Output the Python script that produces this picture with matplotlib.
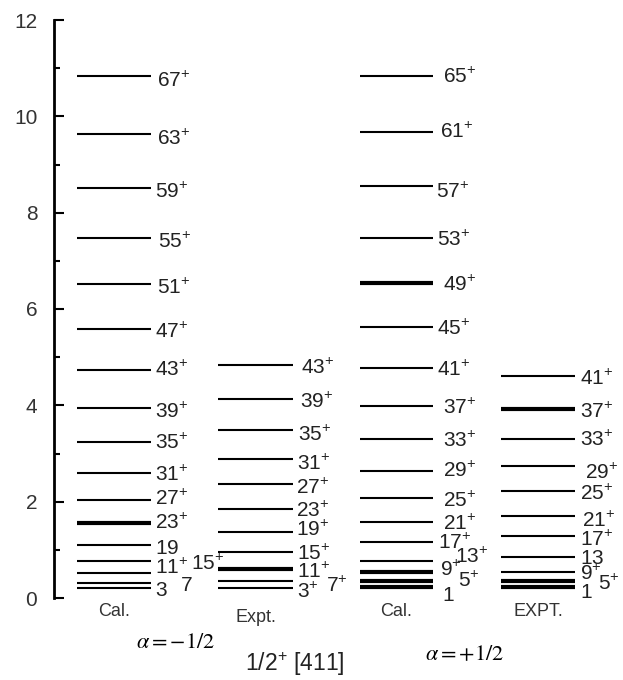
import matplotlib.pyplot as plt

plt.rcParams['font.family'] = ['Liberation Sans', 'DejaVu Sans']
plt.rcParams['mathtext.fontset'] = 'custom'
plt.rcParams['mathtext.rm'] = 'Liberation Sans'

# levels (2I) and energies (MeV)
spin_cal_neg = [67, 63, 59, 55, 51, 47, 43, 39, 35, 31, 27, 23, 19, 15, 11, 7, 3]
e_cal_neg = [10.84, 9.63, 8.51, 7.48, 6.51, 5.58, 4.73, 3.94, 3.24, 2.59, 2.03, 1.55, 1.11, 0.77, 0.51, 0.31, 0.21]

spin_exp_neg = [43, 39, 35, 31, 27, 23, 19, 15, 11, 7, 3]
e_exp_neg = [4.84, 4.13, 3.49, 2.88, 2.36, 1.84, 1.38, 0.96, 0.60, 0.36, 0.21]

spin_cal_pos = [65, 61, 57, 53, 49, 45, 41, 37, 33, 29, 25, 21, 17, 13, 9, 5, 1]
e_cal_pos = [10.84, 9.68, 8.56, 7.48, 6.54, 5.62, 4.78, 3.99, 3.30, 2.64, 2.08, 1.57, 1.16, 0.77, 0.55, 0.36, 0.22]

spin_exp_pos = [41, 37, 33, 29, 25, 21, 17, 13, 9, 5, 1]
e_exp_pos = [4.60, 3.92, 3.30, 2.74, 2.22, 1.70, 1.29, 0.86, 0.55, 0.36, 0.22]

# highlighted (thick) levels
thick_cal_neg = [23]
thick_exp_neg = [11]
thick_cal_pos = [49, 9, 5, 1]
thick_exp_pos = [37, 5, 1]

# labels printed without the parity sign
noplus_cal_neg = [19, 7, 3]
noplus_exp_neg = []
noplus_cal_pos = [1]
noplus_exp_pos = [13, 1]

column_names = ["Cal.", "Expt.", "Cal.", "EXPT."]

# ---- layout (pixel units, axes x == figure pixel x) ----
W, H = 623, 680
x_cols = [(77, 151), (218, 293), (360, 433), (501, 575)]
# label nudges in pixels (dx from line end, dy up)
off_cal_neg = {67: (6, -3), 63: (6, -3), 59: (4, -2), 55: (7, -2), 51: (6, -2), 47: (4, -1),
               43: (4, 2), 39: (4, -2), 35: (4, 1), 31: (4, 0), 27: (4, 3), 23: (4, 2),
               19: (4, -1), 15: (40, -1), 11: (4, 7), 7: (29, 0), 3: (4, 0)}
off_exp_neg = {43: (8, -1), 39: (7, -1), 35: (5, -3), 31: (4, -3), 27: (3, -2), 23: (3, 0),
               19: (3, 4), 15: (4, 0), 11: (4, -1), 7: (33, -3), 3: (4, -2)}
off_cal_pos = {65: (10, 1), 61: (7, 2), 57: (3, -4), 53: (4, 0), 49: (10, 0), 45: (4, 0),
               41: (4, 0), 37: (10, 0), 33: (10, 0), 29: (10, 2), 25: (10, -1), 21: (10, 0),
               17: (5, 1), 13: (22, 6), 9: (7, 4), 5: (25, 2), 1: (9, -6)}
off_exp_pos = {41: (5, -1), 37: (5, -1), 33: (5, 1), 29: (10, -5), 25: (5, -1), 21: (7, -3),
               17: (5, -2), 13: (5, 1), 9: (5, 0), 5: (23, -1), 1: (5, -3)}

fig = plt.figure(figsize=(W / 100, H / 100), dpi=100)
ax = fig.add_axes([54 / W, 1 - 598 / H, (W - 54) / W, (598 - 20) / H])
ax.set_xlim(54, W)
ax.set_ylim(0, 12)

columns = [
    (spin_cal_neg, e_cal_neg, thick_cal_neg, noplus_cal_neg, off_cal_neg),
    (spin_exp_neg, e_exp_neg, thick_exp_neg, noplus_exp_neg, off_exp_neg),
    (spin_cal_pos, e_cal_pos, thick_cal_pos, noplus_cal_pos, off_cal_pos),
    (spin_exp_pos, e_exp_pos, thick_exp_pos, noplus_exp_pos, off_exp_pos),
]

for (spins, energies, thick, noplus, offs), (x0, x1) in zip(columns, x_cols):
    for s, e in zip(spins, energies):
        lw = 3.0 if s in thick else 1.5
        ax.plot([x0, x1], [e, e], color="black", lw=lw, solid_capstyle="butt")
        if s in noplus:
            txt = r"$\mathregular{%d}$" % s
        else:
            txt = r"$\mathregular{%d^{+}}$" % s
        dx, dy = offs.get(s, (4, 0))
        ax.annotate(txt, xy=(x1, e), xytext=(dx, dy - 8), textcoords="offset pixels",
                    ha="left", va="baseline", fontsize=15, color="#222222")

for name, (x0, x1), ypx in zip(column_names, x_cols, [612, 617, 612, 612]):
    fig.text((x0 + x1) / 2 / W, 1 - ypx / H, name, ha="center", va="center",
             fontsize=13, color="#333333")

fig.text(176 / W, 1 - 643 / H, r"$\alpha = -1/2$", ha="center", va="center",
         fontsize=16, family="Liberation Serif", math_fontfamily="stix")
fig.text(465 / W, 1 - 655 / H, r"$\alpha = +1/2$", ha="center", va="center",
         fontsize=16, family="Liberation Serif", math_fontfamily="stix")
fig.text(295 / W, 1 - 664 / H, r"$\mathregular{1/2^{+}}$ [411]", ha="center", va="center",
         fontsize=16.5, color="#222222")

for side in ["top", "right", "bottom"]:
    ax.spines[side].set_visible(False)
ax.spines["left"].set_linewidth(2)
ax.set_xticks([])
ax.set_yticks([0, 2, 4, 6, 8, 10, 12])
ax.set_yticks([1, 3, 5, 7, 9, 11], minor=True)
ax.tick_params(axis="y", which="major", direction="in", length=7, width=1.5,
               labelsize=15, pad=12, labelcolor="#333333")
ax.tick_params(axis="y", which="minor", direction="in", length=4, width=1.5)

fig.savefig("out.png", dpi=100)
